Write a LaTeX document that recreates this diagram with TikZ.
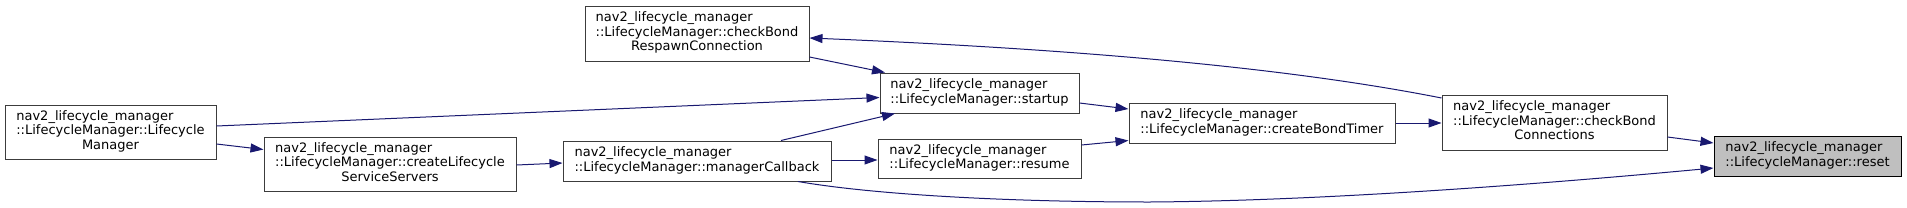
\documentclass[tikz,border=0pt]{standalone}
\usepackage{fontspec}
\setmainfont{DejaVu Sans}
\usepackage{tikz}
\usetikzlibrary{arrows.meta,positioning,calc}
\usepackage{xcolor}
\definecolor{edgeblue}{RGB}{25,25,112}
\definecolor{boxline}{RGB}{60,60,60}
\definecolor{curbg}{RGB}{191,191,191}

\begin{document}
\begin{tikzpicture}[
    x=1pt, y=-1pt,
    every node/.style={font=\fontsize{13}{14.4}\selectfont},
    fn/.style={rectangle, draw=boxline, line width=1pt, fill=white, inner sep=0pt, align=center},
    cur/.style={fn, fill=curbg, draw=black},
    arr/.style={-{Triangle[length=13pt,width=9pt]}, line width=1pt, edgeblue},
]

\useasboundingbox (0,0) rectangle (1907,207);

% ── Functions (left to right) ──
\node[fn, minimum width=211pt, minimum height=54pt] (lcm) at (110.5,132) {\begin{tabular}{@{}l@{}}nav2\_lifecycle\_manager\\::LifecycleManager::Lifecycle\\\multicolumn{1}{@{}c@{}}{Manager}\end{tabular}};
\node[fn, minimum width=252pt, minimum height=54pt] (srv) at (390,164) {\begin{tabular}{@{}l@{}}nav2\_lifecycle\_manager\\::LifecycleManager::createLifecycle\\\multicolumn{1}{@{}c@{}}{ServiceServers}\end{tabular}};
\node[fn, minimum width=224pt, minimum height=55pt] (rsp) at (697,33.5) {\begin{tabular}{@{}l@{}}nav2\_lifecycle\_manager\\::LifecycleManager::checkBond\\\multicolumn{1}{@{}c@{}}{RespawnConnection}\end{tabular}};
\node[fn, minimum width=268pt, minimum height=40pt] (mcb) at (697,161) {\begin{tabular}{@{}l@{}}nav2\_lifecycle\_manager\\::LifecycleManager::managerCallback\end{tabular}};
\node[fn, minimum width=199pt, minimum height=40pt] (stu) at (979.5,93) {\begin{tabular}{@{}l@{}}nav2\_lifecycle\_manager\\::LifecycleManager::startup\end{tabular}};
\node[fn, minimum width=203pt, minimum height=39pt] (rsm) at (979.5,158.5) {\begin{tabular}{@{}l@{}}nav2\_lifecycle\_manager\\::LifecycleManager::resume\end{tabular}};
\node[fn, minimum width=266pt, minimum height=40pt] (cbt) at (1262,123) {\begin{tabular}{@{}l@{}}nav2\_lifecycle\_manager\\::LifecycleManager::createBondTimer\end{tabular}};
\node[fn, minimum width=225pt, minimum height=55pt] (cbc) at (1554.5,122.5) {\begin{tabular}{@{}l@{}}nav2\_lifecycle\_manager\\::LifecycleManager::checkBond\\\multicolumn{1}{@{}c@{}}{Connections}\end{tabular}};
\node[cur, minimum width=187pt, minimum height=40pt] (rst) at (1807.5,156) {\begin{tabular}{@{}l@{}}nav2\_lifecycle\_manager\\::LifecycleManager::reset\end{tabular}};

% ── Calls ──
\draw[arr] ([yshift=6pt]lcm.east) -- ([yshift=-4.5pt]stu.west);
\draw[arr] ([yshift=-12pt]lcm.east) -- ([yshift=14.5pt]srv.west);
\draw[arr] ([yshift=-1pt]srv.east) -- ([yshift=-2pt]mcb.west);
\draw[arr] ([xshift=84pt]mcb.north) -- ([xshift=-84.5pt]stu.south);
\draw[arr] ([yshift=-23.5pt]rsp.east) -- ([xshift=-94.5pt]stu.north);
\draw[arr] ([yshift=1pt]mcb.east) -- ([yshift=-1.5pt]rsm.west);
\draw[arr] ([xshift=101pt]mcb.south) .. controls (870,194) and (1000,202) .. (1150,202)
  .. controls (1300,201) and (1500,188) .. ([yshift=-12pt]rst.west);
\draw[arr] ([yshift=-10pt]stu.east) -- ([yshift=14pt]cbt.west);
\draw[arr] ([yshift=13.5pt]rsm.east) -- ([yshift=-17.5pt]cbt.west);
\draw[arr] (cbt.east) -- (cbt.east -| cbc.west);
\draw[arr] ([yshift=24.5pt]cbc.west) .. controls (1300,70) and (1100,50) .. ([yshift=-4.5pt]rsp.east);
\draw[arr] ([yshift=-14.5pt]cbc.east) -- ([yshift=13pt]rst.west);

\end{tikzpicture}
\end{document}
